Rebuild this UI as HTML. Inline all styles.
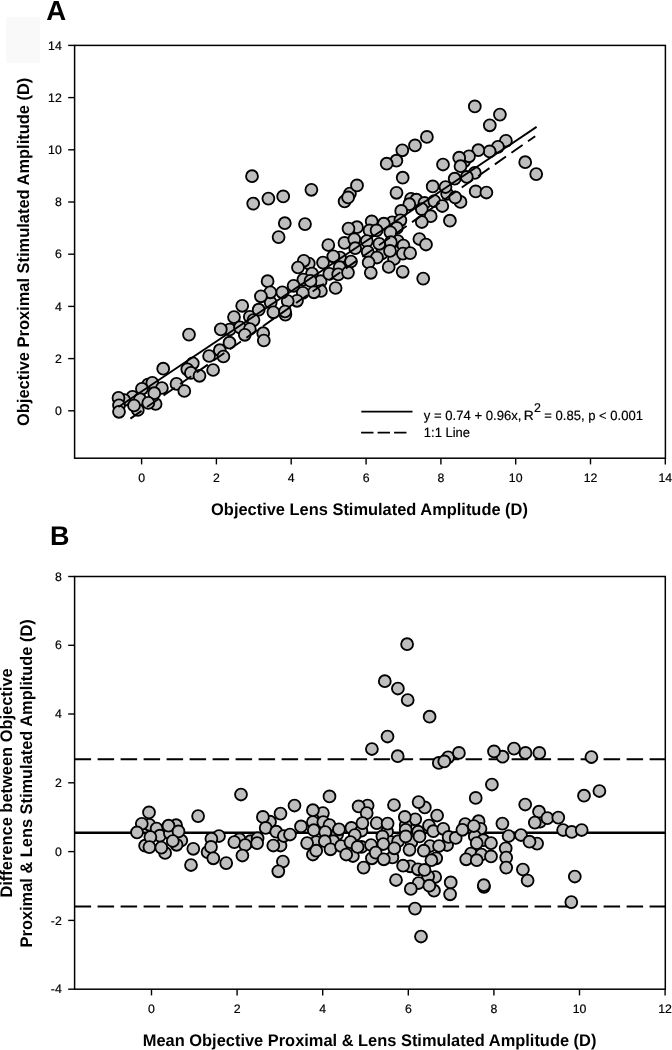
<!DOCTYPE html><html><head><meta charset="utf-8"><style>html,body{margin:0;padding:0;background:#fff;}svg{display:block;will-change:transform;}text{font-family:"Liberation Sans",sans-serif;text-rendering:geometricPrecision;}.n{stroke:#000;stroke-width:0.2px;stroke-linejoin:round;}</style></head><body>
<svg width="672" height="1050" viewBox="0 0 672 1050">
<rect x="0" y="0" width="672" height="1050" fill="#fff"/>
<rect x="6" y="17" width="34" height="46" fill="#f9f9f9"/>
<text x="46.2" y="19.9" font-size="27.6" font-weight="bold">A</text>
<text x="50.0" y="545.3" font-size="27" font-weight="bold">B</text>
<g fill="#bebebe" stroke="#000" stroke-width="1.85">
<circle cx="464.1" cy="161.3" r="5.95"/>
<circle cx="474.8" cy="172.9" r="5.95"/>
<circle cx="349.9" cy="193.6" r="5.95"/>
<circle cx="344.6" cy="201.4" r="5.95"/>
<circle cx="411.0" cy="198.8" r="5.95"/>
<circle cx="416.4" cy="199.7" r="5.95"/>
<circle cx="424.5" cy="202.9" r="5.95"/>
<circle cx="447.1" cy="193.8" r="5.95"/>
<circle cx="460.5" cy="201.9" r="5.95"/>
<circle cx="392.2" cy="222.3" r="5.95"/>
<circle cx="357.0" cy="227.2" r="5.95"/>
<circle cx="397.8" cy="241.0" r="5.95"/>
<circle cx="381.8" cy="253.5" r="5.95"/>
<circle cx="403.4" cy="245.5" r="5.95"/>
<circle cx="394.0" cy="259.0" r="5.95"/>
<circle cx="340.0" cy="257.5" r="5.95"/>
<circle cx="308.8" cy="263.5" r="5.95"/>
<circle cx="303.8" cy="260.8" r="5.95"/>
<circle cx="312.0" cy="273.5" r="5.95"/>
<circle cx="303.4" cy="279.6" r="5.95"/>
<circle cx="320.6" cy="281.2" r="5.95"/>
<circle cx="320.9" cy="291.0" r="5.95"/>
<circle cx="270.7" cy="302.6" r="5.95"/>
<circle cx="285.4" cy="314.6" r="5.95"/>
<circle cx="249.8" cy="316.8" r="5.95"/>
<circle cx="229.7" cy="329.5" r="5.95"/>
<circle cx="219.8" cy="350.2" r="5.95"/>
<circle cx="148.0" cy="384.5" r="5.95"/>
<circle cx="152.3" cy="382.9" r="5.95"/>
<circle cx="155.6" cy="404.0" r="5.95"/>
<circle cx="137.8" cy="410.0" r="5.95"/>
<circle cx="132.5" cy="396.8" r="5.95"/>
<circle cx="124.2" cy="400.0" r="5.95"/>
<circle cx="474.8" cy="106.4" r="5.95"/>
<circle cx="499.9" cy="114.6" r="5.95"/>
<circle cx="489.8" cy="125.3" r="5.95"/>
<circle cx="505.9" cy="140.8" r="5.95"/>
<circle cx="497.9" cy="146.8" r="5.95"/>
<circle cx="489.6" cy="151.4" r="5.95"/>
<circle cx="478.3" cy="150.2" r="5.95"/>
<circle cx="469.0" cy="156.3" r="5.95"/>
<circle cx="459.2" cy="157.7" r="5.95"/>
<circle cx="460.5" cy="166.2" r="5.95"/>
<circle cx="443.0" cy="164.5" r="5.95"/>
<circle cx="525.2" cy="162.2" r="5.95"/>
<circle cx="536.2" cy="174.1" r="5.95"/>
<circle cx="454.7" cy="178.7" r="5.95"/>
<circle cx="466.8" cy="176.9" r="5.95"/>
<circle cx="475.7" cy="191.4" r="5.95"/>
<circle cx="486.4" cy="192.5" r="5.95"/>
<circle cx="426.9" cy="136.9" r="5.95"/>
<circle cx="415.0" cy="145.4" r="5.95"/>
<circle cx="402.3" cy="150.3" r="5.95"/>
<circle cx="396.4" cy="160.7" r="5.95"/>
<circle cx="386.7" cy="163.7" r="5.95"/>
<circle cx="402.7" cy="177.7" r="5.95"/>
<circle cx="432.7" cy="186.4" r="5.95"/>
<circle cx="445.5" cy="187.0" r="5.95"/>
<circle cx="396.5" cy="192.8" r="5.95"/>
<circle cx="252.0" cy="176.2" r="5.95"/>
<circle cx="253.2" cy="203.6" r="5.95"/>
<circle cx="268.4" cy="198.6" r="5.95"/>
<circle cx="283.2" cy="196.4" r="5.95"/>
<circle cx="311.4" cy="189.8" r="5.95"/>
<circle cx="284.8" cy="223.2" r="5.95"/>
<circle cx="305.0" cy="224.1" r="5.95"/>
<circle cx="278.6" cy="237.1" r="5.95"/>
<circle cx="357.0" cy="185.4" r="5.95"/>
<circle cx="348.1" cy="197.4" r="5.95"/>
<circle cx="409.3" cy="204.2" r="5.95"/>
<circle cx="421.8" cy="209.1" r="5.95"/>
<circle cx="434.3" cy="201.1" r="5.95"/>
<circle cx="442.3" cy="206.0" r="5.95"/>
<circle cx="430.7" cy="216.2" r="5.95"/>
<circle cx="421.8" cy="222.0" r="5.95"/>
<circle cx="449.9" cy="220.7" r="5.95"/>
<circle cx="401.2" cy="210.9" r="5.95"/>
<circle cx="400.4" cy="220.3" r="5.95"/>
<circle cx="396.8" cy="227.9" r="5.95"/>
<circle cx="419.4" cy="239.0" r="5.95"/>
<circle cx="426.0" cy="244.5" r="5.95"/>
<circle cx="455.2" cy="197.4" r="5.95"/>
<circle cx="371.7" cy="221.4" r="5.95"/>
<circle cx="383.8" cy="223.7" r="5.95"/>
<circle cx="348.5" cy="228.6" r="5.95"/>
<circle cx="369.5" cy="230.4" r="5.95"/>
<circle cx="376.6" cy="230.4" r="5.95"/>
<circle cx="390.4" cy="232.3" r="5.95"/>
<circle cx="344.5" cy="242.9" r="5.95"/>
<circle cx="354.3" cy="239.3" r="5.95"/>
<circle cx="355.2" cy="248.2" r="5.95"/>
<circle cx="366.8" cy="241.1" r="5.95"/>
<circle cx="367.7" cy="251.8" r="5.95"/>
<circle cx="379.3" cy="243.8" r="5.95"/>
<circle cx="390.9" cy="242.2" r="5.95"/>
<circle cx="390.0" cy="250.9" r="5.95"/>
<circle cx="402.9" cy="253.6" r="5.95"/>
<circle cx="410.1" cy="253.1" r="5.95"/>
<circle cx="377.0" cy="257.5" r="5.95"/>
<circle cx="368.6" cy="262.5" r="5.95"/>
<circle cx="388.7" cy="267.0" r="5.95"/>
<circle cx="370.8" cy="272.8" r="5.95"/>
<circle cx="402.7" cy="271.8" r="5.95"/>
<circle cx="423.2" cy="278.6" r="5.95"/>
<circle cx="328.3" cy="245.0" r="5.95"/>
<circle cx="333.3" cy="256.3" r="5.95"/>
<circle cx="323.0" cy="262.6" r="5.95"/>
<circle cx="351.0" cy="261.5" r="5.95"/>
<circle cx="298.0" cy="267.5" r="5.95"/>
<circle cx="339.6" cy="267.2" r="5.95"/>
<circle cx="329.3" cy="273.9" r="5.95"/>
<circle cx="338.2" cy="274.4" r="5.95"/>
<circle cx="348.0" cy="272.6" r="5.95"/>
<circle cx="310.5" cy="280.9" r="5.95"/>
<circle cx="335.6" cy="288.0" r="5.95"/>
<circle cx="293.6" cy="285.8" r="5.95"/>
<circle cx="313.9" cy="292.3" r="5.95"/>
<circle cx="302.8" cy="292.8" r="5.95"/>
<circle cx="297.0" cy="300.8" r="5.95"/>
<circle cx="287.7" cy="301.0" r="5.95"/>
<circle cx="282.3" cy="292.3" r="5.95"/>
<circle cx="267.6" cy="281.2" r="5.95"/>
<circle cx="270.3" cy="292.3" r="5.95"/>
<circle cx="260.9" cy="296.3" r="5.95"/>
<circle cx="242.2" cy="305.8" r="5.95"/>
<circle cx="258.7" cy="309.7" r="5.95"/>
<circle cx="273.4" cy="312.3" r="5.95"/>
<circle cx="285.0" cy="311.5" r="5.95"/>
<circle cx="234.0" cy="317.1" r="5.95"/>
<circle cx="253.5" cy="320.1" r="5.95"/>
<circle cx="240.0" cy="327.4" r="5.95"/>
<circle cx="249.8" cy="329.0" r="5.95"/>
<circle cx="244.8" cy="334.8" r="5.95"/>
<circle cx="220.8" cy="329.4" r="5.95"/>
<circle cx="229.5" cy="342.7" r="5.95"/>
<circle cx="263.2" cy="333.2" r="5.95"/>
<circle cx="263.8" cy="340.5" r="5.95"/>
<circle cx="209.1" cy="356.0" r="5.95"/>
<circle cx="223.4" cy="356.5" r="5.95"/>
<circle cx="189.0" cy="334.6" r="5.95"/>
<circle cx="213.1" cy="370.0" r="5.95"/>
<circle cx="192.8" cy="363.3" r="5.95"/>
<circle cx="187.3" cy="369.3" r="5.95"/>
<circle cx="190.9" cy="372.9" r="5.95"/>
<circle cx="199.5" cy="375.8" r="5.95"/>
<circle cx="176.5" cy="383.9" r="5.95"/>
<circle cx="184.3" cy="391.0" r="5.95"/>
<circle cx="163.2" cy="368.7" r="5.95"/>
<circle cx="141.9" cy="388.8" r="5.95"/>
<circle cx="161.9" cy="388.0" r="5.95"/>
<circle cx="154.3" cy="393.2" r="5.95"/>
<circle cx="140.0" cy="399.2" r="5.95"/>
<circle cx="148.3" cy="402.9" r="5.95"/>
<circle cx="134.0" cy="405.5" r="5.95"/>
<circle cx="118.5" cy="397.9" r="5.95"/>
<circle cx="119.0" cy="405.3" r="5.95"/>
<circle cx="119.0" cy="411.8" r="5.95"/>
</g>
<line x1="118.4" y1="407.02" x2="536.6" y2="126.89" stroke="#000" stroke-width="1.9"/>
<line x1="130.4" y1="418.63" x2="535.2" y2="136.23" stroke="#000" stroke-width="1.9" stroke-dasharray="13.6 6.6"/>
<rect x="74.6" y="45.4" width="590.8" height="412.8" fill="none" stroke="#000" stroke-width="1.5"/>
<line x1="141.6" y1="458.2" x2="141.6" y2="464.4" stroke="#000" stroke-width="1.4"/>
<text x="141.6" y="481.7" font-size="12.3" class="n" text-anchor="middle">0</text>
<line x1="68.19999999999999" y1="410.8" x2="74.6" y2="410.8" stroke="#000" stroke-width="1.4"/>
<text x="61.8" y="414.9" font-size="12.3" class="n" text-anchor="end">0</text>
<line x1="216.4" y1="458.2" x2="216.4" y2="464.4" stroke="#000" stroke-width="1.4"/>
<text x="216.4" y="481.7" font-size="12.3" class="n" text-anchor="middle">2</text>
<line x1="68.19999999999999" y1="358.6" x2="74.6" y2="358.6" stroke="#000" stroke-width="1.4"/>
<text x="61.8" y="362.7" font-size="12.3" class="n" text-anchor="end">2</text>
<line x1="291.2" y1="458.2" x2="291.2" y2="464.4" stroke="#000" stroke-width="1.4"/>
<text x="291.2" y="481.7" font-size="12.3" class="n" text-anchor="middle">4</text>
<line x1="68.19999999999999" y1="306.4" x2="74.6" y2="306.4" stroke="#000" stroke-width="1.4"/>
<text x="61.8" y="310.5" font-size="12.3" class="n" text-anchor="end">4</text>
<line x1="366.1" y1="458.2" x2="366.1" y2="464.4" stroke="#000" stroke-width="1.4"/>
<text x="366.1" y="481.7" font-size="12.3" class="n" text-anchor="middle">6</text>
<line x1="68.19999999999999" y1="254.2" x2="74.6" y2="254.2" stroke="#000" stroke-width="1.4"/>
<text x="61.8" y="258.3" font-size="12.3" class="n" text-anchor="end">6</text>
<line x1="440.9" y1="458.2" x2="440.9" y2="464.4" stroke="#000" stroke-width="1.4"/>
<text x="440.9" y="481.7" font-size="12.3" class="n" text-anchor="middle">8</text>
<line x1="68.19999999999999" y1="202.0" x2="74.6" y2="202.0" stroke="#000" stroke-width="1.4"/>
<text x="61.8" y="206.1" font-size="12.3" class="n" text-anchor="end">8</text>
<line x1="515.7" y1="458.2" x2="515.7" y2="464.4" stroke="#000" stroke-width="1.4"/>
<text x="515.7" y="481.7" font-size="12.3" class="n" text-anchor="middle">10</text>
<line x1="68.19999999999999" y1="149.8" x2="74.6" y2="149.8" stroke="#000" stroke-width="1.4"/>
<text x="61.8" y="153.9" font-size="12.3" class="n" text-anchor="end">10</text>
<line x1="590.5" y1="458.2" x2="590.5" y2="464.4" stroke="#000" stroke-width="1.4"/>
<text x="590.5" y="481.7" font-size="12.3" class="n" text-anchor="middle">12</text>
<line x1="68.19999999999999" y1="97.6" x2="74.6" y2="97.6" stroke="#000" stroke-width="1.4"/>
<text x="61.8" y="101.7" font-size="12.3" class="n" text-anchor="end">12</text>
<line x1="665.3" y1="458.2" x2="665.3" y2="464.4" stroke="#000" stroke-width="1.4"/>
<text x="665.3" y="481.7" font-size="12.3" class="n" text-anchor="middle">14</text>
<line x1="68.19999999999999" y1="45.4" x2="74.6" y2="45.4" stroke="#000" stroke-width="1.4"/>
<text x="61.8" y="49.5" font-size="12.3" class="n" text-anchor="end">14</text>
<line x1="361.3" y1="411.6" x2="412.5" y2="411.6" stroke="#000" stroke-width="1.9"/>
<line x1="361.1" y1="432.6" x2="406.8" y2="432.6" stroke="#000" stroke-width="1.9" stroke-dasharray="12.4 4.1"/>
<text x="423.8" y="419.9" font-size="13.3" class="n" textLength="97.6" lengthAdjust="spacingAndGlyphs">y = 0.74 + 0.96x,</text>
<text x="523.8" y="419.9" font-size="13.3" class="n" textLength="10" lengthAdjust="spacingAndGlyphs">R</text>
<text x="533.9" y="412.1" font-size="12.6" class="n" textLength="6.9" lengthAdjust="spacingAndGlyphs">2</text>
<text x="544.3" y="419.9" font-size="13.3" class="n" textLength="98.6" lengthAdjust="spacingAndGlyphs">= 0.85, p &lt; 0.001</text>
<text x="423.8" y="436.8" font-size="13.3" class="n" textLength="46.3" lengthAdjust="spacingAndGlyphs">1:1 Line</text>
<text x="211.1" y="515.2" font-size="16.8" font-weight="bold" textLength="316.8" lengthAdjust="spacingAndGlyphs">Objective Lens Stimulated Amplitude (D)</text>
<text transform="translate(28.6 426.0) rotate(-90)" x="0" y="0" font-size="16.8" font-weight="bold" textLength="348.3" lengthAdjust="spacingAndGlyphs">Objective Proximal Stimulated Amplitude (D)</text>
<line x1="74.6" y1="832.8" x2="665.3" y2="832.8" stroke="#000" stroke-width="2.4"/>
<line x1="74.6" y1="759.2" x2="665.3" y2="759.2" stroke="#000" stroke-width="2" stroke-dasharray="16.5 6.5"/>
<line x1="74.6" y1="906.4" x2="665.3" y2="906.4" stroke="#000" stroke-width="2" stroke-dasharray="16.5 6.5"/>
<g fill="#bebebe" stroke="#000" stroke-width="1.85">
<circle cx="149.4" cy="824.8" r="5.95"/>
<circle cx="156.6" cy="828.6" r="5.95"/>
<circle cx="159.9" cy="835.7" r="5.95"/>
<circle cx="145.1" cy="845.7" r="5.95"/>
<circle cx="165.1" cy="852.9" r="5.95"/>
<circle cx="176.1" cy="825.2" r="5.95"/>
<circle cx="181.3" cy="840.5" r="5.95"/>
<circle cx="176.6" cy="844.8" r="5.95"/>
<circle cx="169.9" cy="833.3" r="5.95"/>
<circle cx="207.6" cy="852.1" r="5.95"/>
<circle cx="270.0" cy="821.7" r="5.95"/>
<circle cx="239.5" cy="839.3" r="5.95"/>
<circle cx="250.5" cy="841.2" r="5.95"/>
<circle cx="257.6" cy="838.3" r="5.95"/>
<circle cx="280.5" cy="845.5" r="5.95"/>
<circle cx="322.9" cy="813.1" r="5.95"/>
<circle cx="312.9" cy="822.1" r="5.95"/>
<circle cx="323.3" cy="822.1" r="5.95"/>
<circle cx="329.5" cy="825.0" r="5.95"/>
<circle cx="337.1" cy="834.5" r="5.95"/>
<circle cx="312.9" cy="854.5" r="5.95"/>
<circle cx="333.3" cy="841.2" r="5.95"/>
<circle cx="316.2" cy="842.1" r="5.95"/>
<circle cx="367.6" cy="805.5" r="5.95"/>
<circle cx="351.4" cy="827.9" r="5.95"/>
<circle cx="361.4" cy="830.7" r="5.95"/>
<circle cx="361.4" cy="846.9" r="5.95"/>
<circle cx="352.9" cy="856.0" r="5.95"/>
<circle cx="387.1" cy="831.7" r="5.95"/>
<circle cx="391.0" cy="842.1" r="5.95"/>
<circle cx="371.9" cy="858.3" r="5.95"/>
<circle cx="424.8" cy="807.4" r="5.95"/>
<circle cx="415.2" cy="819.3" r="5.95"/>
<circle cx="405.7" cy="825.0" r="5.95"/>
<circle cx="405.7" cy="829.8" r="5.95"/>
<circle cx="429.0" cy="825.5" r="5.95"/>
<circle cx="418.1" cy="831.7" r="5.95"/>
<circle cx="398.1" cy="841.2" r="5.95"/>
<circle cx="411.4" cy="842.1" r="5.95"/>
<circle cx="430.0" cy="846.0" r="5.95"/>
<circle cx="436.2" cy="858.3" r="5.95"/>
<circle cx="392.4" cy="857.4" r="5.95"/>
<circle cx="410.2" cy="866.3" r="5.95"/>
<circle cx="418.0" cy="869.3" r="5.95"/>
<circle cx="435.2" cy="877.0" r="5.95"/>
<circle cx="428.1" cy="876.4" r="5.95"/>
<circle cx="434.0" cy="890.7" r="5.95"/>
<circle cx="465.2" cy="824.0" r="5.95"/>
<circle cx="478.6" cy="821.2" r="5.95"/>
<circle cx="480.5" cy="828.8" r="5.95"/>
<circle cx="447.1" cy="845.0" r="5.95"/>
<circle cx="474.8" cy="836.4" r="5.95"/>
<circle cx="483.3" cy="840.2" r="5.95"/>
<circle cx="471.0" cy="853.6" r="5.95"/>
<circle cx="481.4" cy="854.5" r="5.95"/>
<circle cx="540.0" cy="821.7" r="5.95"/>
<circle cx="537.1" cy="843.6" r="5.95"/>
<circle cx="438.8" cy="762.9" r="5.95"/>
<circle cx="448.1" cy="757.3" r="5.95"/>
<circle cx="502.6" cy="756.7" r="5.95"/>
<circle cx="484.0" cy="886.8" r="5.95"/>
<circle cx="149.0" cy="812.4" r="5.95"/>
<circle cx="141.8" cy="823.8" r="5.95"/>
<circle cx="137.0" cy="832.4" r="5.95"/>
<circle cx="150.4" cy="837.1" r="5.95"/>
<circle cx="149.4" cy="847.1" r="5.95"/>
<circle cx="161.3" cy="847.6" r="5.95"/>
<circle cx="168.5" cy="825.7" r="5.95"/>
<circle cx="178.5" cy="831.4" r="5.95"/>
<circle cx="172.8" cy="841.0" r="5.95"/>
<circle cx="193.3" cy="848.8" r="5.95"/>
<circle cx="191.0" cy="865.0" r="5.95"/>
<circle cx="198.1" cy="816.1" r="5.95"/>
<circle cx="219.0" cy="836.0" r="5.95"/>
<circle cx="211.4" cy="838.8" r="5.95"/>
<circle cx="211.0" cy="846.9" r="5.95"/>
<circle cx="213.3" cy="858.3" r="5.95"/>
<circle cx="226.2" cy="863.1" r="5.95"/>
<circle cx="234.3" cy="842.1" r="5.95"/>
<circle cx="241.0" cy="794.5" r="5.95"/>
<circle cx="262.9" cy="816.9" r="5.95"/>
<circle cx="265.7" cy="827.9" r="5.95"/>
<circle cx="276.2" cy="831.7" r="5.95"/>
<circle cx="283.8" cy="836.0" r="5.95"/>
<circle cx="290.0" cy="834.5" r="5.95"/>
<circle cx="280.5" cy="813.6" r="5.95"/>
<circle cx="294.5" cy="805.5" r="5.95"/>
<circle cx="245.2" cy="845.0" r="5.95"/>
<circle cx="257.1" cy="843.1" r="5.95"/>
<circle cx="242.4" cy="855.5" r="5.95"/>
<circle cx="273.3" cy="845.5" r="5.95"/>
<circle cx="282.9" cy="861.5" r="5.95"/>
<circle cx="329.5" cy="796.4" r="5.95"/>
<circle cx="312.9" cy="810.2" r="5.95"/>
<circle cx="301.0" cy="826.4" r="5.95"/>
<circle cx="313.8" cy="830.2" r="5.95"/>
<circle cx="325.2" cy="832.1" r="5.95"/>
<circle cx="339.0" cy="829.3" r="5.95"/>
<circle cx="307.1" cy="843.1" r="5.95"/>
<circle cx="316.2" cy="850.7" r="5.95"/>
<circle cx="324.8" cy="841.2" r="5.95"/>
<circle cx="330.5" cy="849.3" r="5.95"/>
<circle cx="341.0" cy="846.0" r="5.95"/>
<circle cx="278.3" cy="871.3" r="5.95"/>
<circle cx="358.6" cy="806.4" r="5.95"/>
<circle cx="366.7" cy="813.1" r="5.95"/>
<circle cx="362.4" cy="823.1" r="5.95"/>
<circle cx="376.7" cy="823.1" r="5.95"/>
<circle cx="387.6" cy="823.6" r="5.95"/>
<circle cx="354.8" cy="835.0" r="5.95"/>
<circle cx="350.5" cy="842.1" r="5.95"/>
<circle cx="357.6" cy="846.9" r="5.95"/>
<circle cx="346.2" cy="854.5" r="5.95"/>
<circle cx="382.4" cy="836.4" r="5.95"/>
<circle cx="371.0" cy="845.0" r="5.95"/>
<circle cx="383.3" cy="844.0" r="5.95"/>
<circle cx="375.7" cy="852.6" r="5.95"/>
<circle cx="383.8" cy="859.3" r="5.95"/>
<circle cx="363.6" cy="867.6" r="5.95"/>
<circle cx="394.0" cy="805.0" r="5.95"/>
<circle cx="418.6" cy="802.1" r="5.95"/>
<circle cx="404.8" cy="816.9" r="5.95"/>
<circle cx="437.1" cy="815.5" r="5.95"/>
<circle cx="433.3" cy="831.2" r="5.95"/>
<circle cx="405.7" cy="836.4" r="5.95"/>
<circle cx="419.5" cy="836.4" r="5.95"/>
<circle cx="394.3" cy="848.3" r="5.95"/>
<circle cx="409.5" cy="849.8" r="5.95"/>
<circle cx="423.8" cy="850.7" r="5.95"/>
<circle cx="439.0" cy="846.0" r="5.95"/>
<circle cx="431.4" cy="860.2" r="5.95"/>
<circle cx="403.1" cy="865.7" r="5.95"/>
<circle cx="424.5" cy="869.9" r="5.95"/>
<circle cx="396.0" cy="880.0" r="5.95"/>
<circle cx="418.6" cy="883.0" r="5.95"/>
<circle cx="429.3" cy="885.7" r="5.95"/>
<circle cx="410.8" cy="888.9" r="5.95"/>
<circle cx="450.7" cy="882.4" r="5.95"/>
<circle cx="450.1" cy="894.3" r="5.95"/>
<circle cx="415.0" cy="908.6" r="5.95"/>
<circle cx="421.0" cy="936.5" r="5.95"/>
<circle cx="475.7" cy="797.9" r="5.95"/>
<circle cx="443.3" cy="828.8" r="5.95"/>
<circle cx="448.6" cy="836.9" r="5.95"/>
<circle cx="455.7" cy="837.9" r="5.95"/>
<circle cx="462.4" cy="829.8" r="5.95"/>
<circle cx="473.8" cy="826.0" r="5.95"/>
<circle cx="476.7" cy="843.1" r="5.95"/>
<circle cx="491.0" cy="843.1" r="5.95"/>
<circle cx="466.2" cy="859.3" r="5.95"/>
<circle cx="476.7" cy="860.2" r="5.95"/>
<circle cx="491.0" cy="856.4" r="5.95"/>
<circle cx="491.9" cy="784.5" r="5.95"/>
<circle cx="525.2" cy="804.5" r="5.95"/>
<circle cx="539.0" cy="811.7" r="5.95"/>
<circle cx="534.8" cy="822.6" r="5.95"/>
<circle cx="502.4" cy="823.6" r="5.95"/>
<circle cx="508.6" cy="836.0" r="5.95"/>
<circle cx="521.0" cy="835.0" r="5.95"/>
<circle cx="529.5" cy="841.7" r="5.95"/>
<circle cx="505.7" cy="848.3" r="5.95"/>
<circle cx="506.2" cy="857.6" r="5.95"/>
<circle cx="506.2" cy="867.6" r="5.95"/>
<circle cx="522.9" cy="869.5" r="5.95"/>
<circle cx="527.6" cy="880.5" r="5.95"/>
<circle cx="483.8" cy="885.2" r="5.95"/>
<circle cx="584.0" cy="795.7" r="5.95"/>
<circle cx="547.4" cy="818.1" r="5.95"/>
<circle cx="558.3" cy="817.6" r="5.95"/>
<circle cx="563.1" cy="830.0" r="5.95"/>
<circle cx="571.7" cy="831.9" r="5.95"/>
<circle cx="581.7" cy="830.0" r="5.95"/>
<circle cx="599.4" cy="791.0" r="5.95"/>
<circle cx="574.8" cy="876.5" r="5.95"/>
<circle cx="571.3" cy="902.1" r="5.95"/>
<circle cx="407.1" cy="644.2" r="5.95"/>
<circle cx="384.8" cy="681.2" r="5.95"/>
<circle cx="397.9" cy="688.5" r="5.95"/>
<circle cx="407.7" cy="700.0" r="5.95"/>
<circle cx="429.6" cy="716.7" r="5.95"/>
<circle cx="387.5" cy="736.5" r="5.95"/>
<circle cx="371.9" cy="749.0" r="5.95"/>
<circle cx="397.7" cy="756.2" r="5.95"/>
<circle cx="444.3" cy="761.4" r="5.95"/>
<circle cx="458.9" cy="752.9" r="5.95"/>
<circle cx="494.0" cy="751.4" r="5.95"/>
<circle cx="514.0" cy="748.6" r="5.95"/>
<circle cx="525.5" cy="752.9" r="5.95"/>
<circle cx="539.3" cy="752.9" r="5.95"/>
<circle cx="591.4" cy="757.0" r="5.95"/>
</g>
<rect x="74.6" y="576.5" width="590.6999999999999" height="412.70000000000005" fill="none" stroke="#000" stroke-width="1.5"/>
<line x1="151.5" y1="989.2" x2="151.5" y2="995.4000000000001" stroke="#000" stroke-width="1.4"/>
<text x="151.5" y="1013.1" font-size="12.3" class="n" text-anchor="middle">0</text>
<line x1="237.1" y1="989.2" x2="237.1" y2="995.4000000000001" stroke="#000" stroke-width="1.4"/>
<text x="237.1" y="1013.1" font-size="12.3" class="n" text-anchor="middle">2</text>
<line x1="322.7" y1="989.2" x2="322.7" y2="995.4000000000001" stroke="#000" stroke-width="1.4"/>
<text x="322.7" y="1013.1" font-size="12.3" class="n" text-anchor="middle">4</text>
<line x1="408.3" y1="989.2" x2="408.3" y2="995.4000000000001" stroke="#000" stroke-width="1.4"/>
<text x="408.3" y="1013.1" font-size="12.3" class="n" text-anchor="middle">6</text>
<line x1="493.9" y1="989.2" x2="493.9" y2="995.4000000000001" stroke="#000" stroke-width="1.4"/>
<text x="493.9" y="1013.1" font-size="12.3" class="n" text-anchor="middle">8</text>
<line x1="579.5" y1="989.2" x2="579.5" y2="995.4000000000001" stroke="#000" stroke-width="1.4"/>
<text x="579.5" y="1013.1" font-size="12.3" class="n" text-anchor="middle">10</text>
<line x1="665.1" y1="989.2" x2="665.1" y2="995.4000000000001" stroke="#000" stroke-width="1.4"/>
<text x="665.1" y="1013.1" font-size="12.3" class="n" text-anchor="middle">12</text>
<line x1="68.19999999999999" y1="989.2" x2="74.6" y2="989.2" stroke="#000" stroke-width="1.4"/>
<text x="61.8" y="993.3" font-size="12.3" class="n" text-anchor="end">-4</text>
<line x1="68.19999999999999" y1="920.4" x2="74.6" y2="920.4" stroke="#000" stroke-width="1.4"/>
<text x="61.8" y="924.5" font-size="12.3" class="n" text-anchor="end">-2</text>
<line x1="68.19999999999999" y1="851.6" x2="74.6" y2="851.6" stroke="#000" stroke-width="1.4"/>
<text x="61.8" y="855.7" font-size="12.3" class="n" text-anchor="end">0</text>
<line x1="68.19999999999999" y1="782.8" x2="74.6" y2="782.8" stroke="#000" stroke-width="1.4"/>
<text x="61.8" y="786.9" font-size="12.3" class="n" text-anchor="end">2</text>
<line x1="68.19999999999999" y1="714.0" x2="74.6" y2="714.0" stroke="#000" stroke-width="1.4"/>
<text x="61.8" y="718.1" font-size="12.3" class="n" text-anchor="end">4</text>
<line x1="68.19999999999999" y1="645.3" x2="74.6" y2="645.3" stroke="#000" stroke-width="1.4"/>
<text x="61.8" y="649.4" font-size="12.3" class="n" text-anchor="end">6</text>
<line x1="68.19999999999999" y1="576.5" x2="74.6" y2="576.5" stroke="#000" stroke-width="1.4"/>
<text x="61.8" y="580.6" font-size="12.3" class="n" text-anchor="end">8</text>
<text x="142.8" y="1046" font-size="16.8" font-weight="bold" textLength="453.6" lengthAdjust="spacingAndGlyphs">Mean Objective Proximal &amp; Lens Stimulated Amplitude (D)</text>
<text transform="translate(11.8 897.6) rotate(-90)" x="0" y="0" font-size="16.8" font-weight="bold" textLength="229.3" lengthAdjust="spacingAndGlyphs">Difference between Objective</text>
<text transform="translate(31.6 947.4) rotate(-90)" x="0" y="0" font-size="16.8" font-weight="bold" textLength="328.1" lengthAdjust="spacingAndGlyphs">Proximal &amp; Lens Stimulated Amplitude (D)</text>
</svg></body></html>
